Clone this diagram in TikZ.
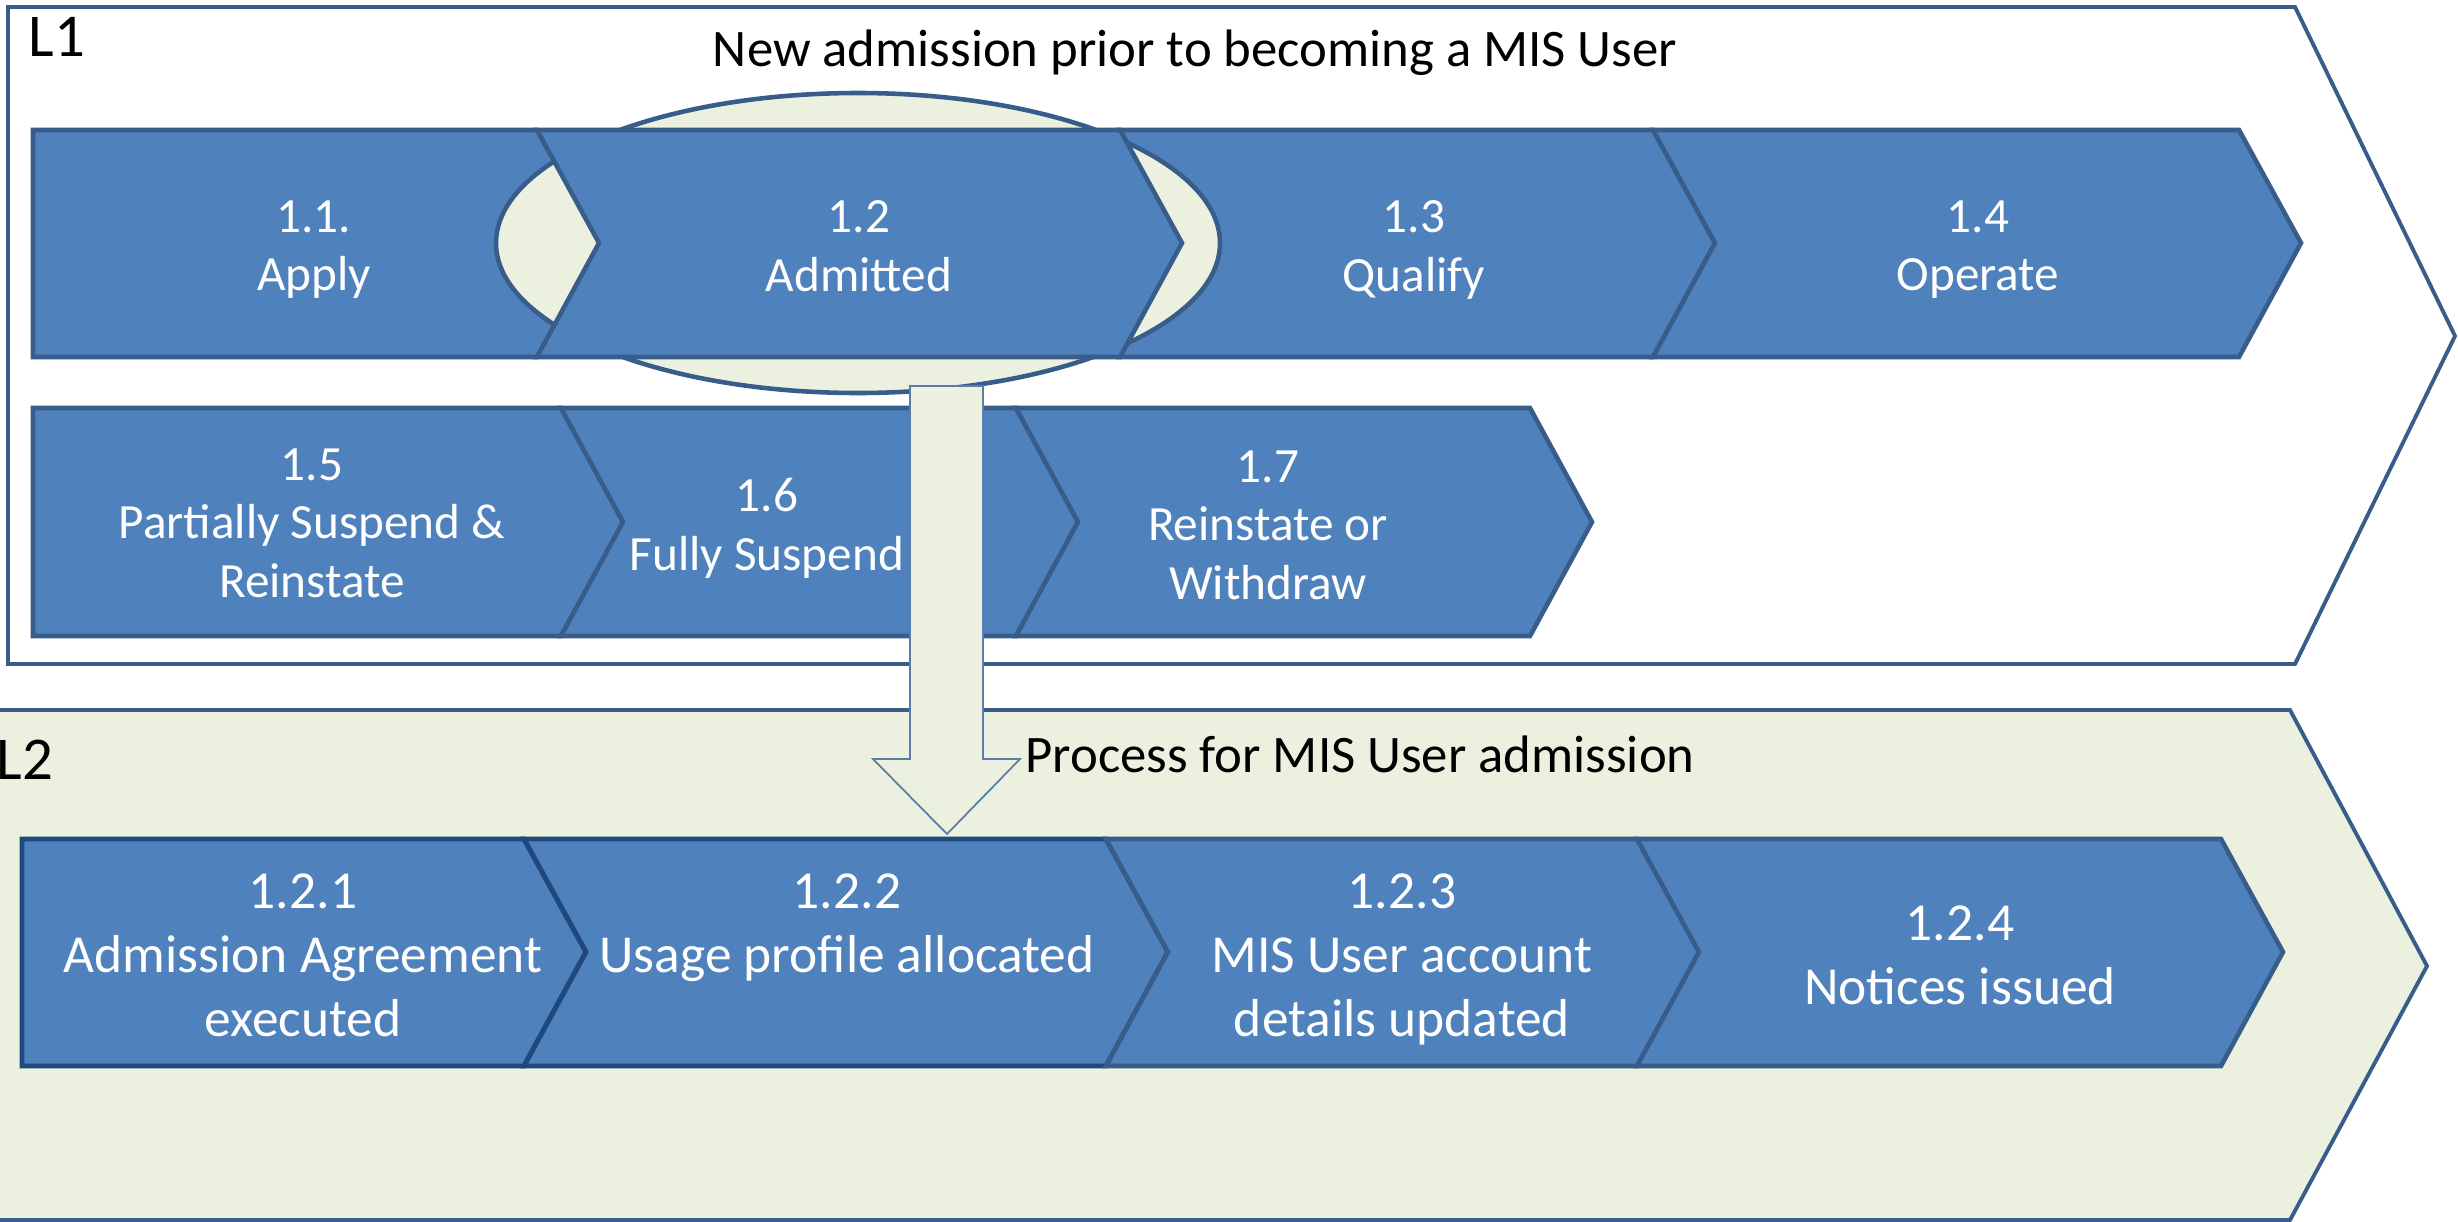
\documentclass[tikz,border=0pt]{standalone}
\usepackage{fontspec}
\setmainfont{Carlito}
\usetikzlibrary{positioning,calc}

\definecolor{chevblue}{HTML}{4F81BD}
\definecolor{chevline}{HTML}{385D8A}
\definecolor{darkline}{HTML}{1F497D}
\definecolor{palegreen}{HTML}{EBF1DE}
\definecolor{arrowline}{HTML}{5A7CA6}

% notch depth, left x, corner x, top y, mid y, bottom y
\newcommand{\chev}[7][chevbox]{%
  \filldraw[#1] (#3,#5) -- (#4,#5) -- (#4+62,#6) -- (#4,#7) -- (#3,#7) -- (#3+#2,#6) -- cycle;}

\begin{document}
\begin{tikzpicture}[x=0.01cm, y=-0.01cm,
  chevbox/.style={fill=chevblue, draw=chevline, line width=1.3pt},
  chevdark/.style={fill=chevblue, draw=darkline, line width=1.4pt},
  frame/.style={draw=chevline, line width=1.1pt},
  lab/.style={anchor=north, inner sep=0pt, text=white, align=center, font=\fontsize{14}{16.6}\selectfont},
  labtwo/.style={anchor=north, inner sep=0pt, text=white, align=center, font=\fontsize{15.2}{18.2}\selectfont},
  title/.style={anchor=base, inner sep=0pt, font=\fontsize{15}{18}\selectfont},
  level/.style={anchor=base west, inner sep=0pt, font=\fontsize{17.3}{20}\selectfont}]
\useasboundingbox (0,0) rectangle (2458,1221);

% Level frames
\filldraw[frame, fill=white] (8,7) -- (2295,7) -- (2455,336) -- (2295,664) -- (8,664) -- cycle;
\filldraw[frame, fill=palegreen] (-30,710) -- (2290,710) -- (2427,966) -- (2290,1220) -- (-30,1220) -- cycle;

\node[level] (L1) at (28,56) {L1};
\node[level] (L2) at (-4,779) {L2};
\node[title] (t1) at (1195,67) {New admission prior to becoming a MIS User};
\node[title] (t2) at (1360,772) {Process for MIS User admission};

% L1 first row
\chev{0}{33}{537}{130}{243}{357}
\chev{62}{1120}{1653}{130}{243}{357}
\chev{62}{1653}{2239}{130}{243}{357}
\filldraw[frame, fill=palegreen, line width=1.3pt] (858,243) ellipse [x radius=362, y radius=150];
\chev{62}{537}{1120}{130}{243}{357}

% L1 second row
\chev{0}{33}{561}{408}{522}{636}
\chev{62}{561}{1016}{408}{522}{636}
\chev{62}{1016}{1530}{408}{522}{636}

% L2 row
\chev[chevdark]{0}{22}{524}{839}{952}{1066}
\chev[chevdark]{62}{524}{1106}{839}{952}{1066}
\chev{62}{1106}{1637}{839}{952}{1066}
\chev{62}{1637}{2221}{839}{952}{1066}

\node[lab] (s11) at (314,200) {1.1.\\Apply};
\node[lab] (s12) at (859,200) {1.2\\Admitted};
\node[lab] (s13) at (1414,200) {1.3\\Qualify};
\node[lab] (s14) at (1978,200) {1.4\\Operate};
\node[lab] (s15) at (312,448) {1.5\\Partially Suspend \&\\Reinstate};
\node[lab] (s16) at (767,478) {1.6\\Fully Suspend};
\node[lab] (s17) at (1268,450) {1.7\\Reinstate or\\Withdraw};

\node[labtwo] (s121) at (303,873) {1.2.1\\Admission Agreement\\executed};
\node[labtwo] (s122) at (847,873) {1.2.2\\Usage profile allocated};
\node[labtwo] (s123) at (1402,873) {1.2.3\\MIS User account\\details updated};
\node[labtwo] (s124) at (1960,905) {1.2.4\\Notices issued};

% block arrow down to L2
\filldraw[fill=palegreen, draw=arrowline, line width=0.5pt] (910,386) -- (983,386) -- (983,759) -- (1020,759) -- (947,834) -- (873,759) -- (910,759) -- cycle;
\end{tikzpicture}
\end{document}
